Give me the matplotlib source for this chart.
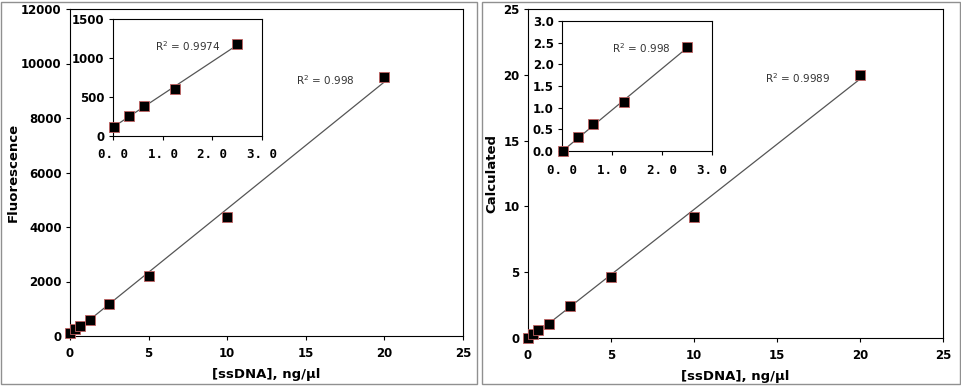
import numpy as np
import matplotlib.pyplot as plt
from matplotlib.patches import Rectangle

# concentrations, ng/ul
conc = [0, 0.3125, 0.625, 1.25, 2.5, 5, 10, 20]
fluor = [100, 250, 380, 590, 1170, 2200, 4380, 9500]
calc = [0, 0.3, 0.6, 1.1, 2.4, 4.6, 9.2, 20]

conc_low = [0.03, 0.3125, 0.625, 1.25, 2.5]
fluor_low = [120, 260, 390, 600, 1180]
calc_low = [0.0, 0.32, 0.62, 1.12, 2.4]

r2_main = ['R$^2$ = 0.998', 'R$^2$ = 0.9989']
r2_inset = ['R$^2$ = 0.9974', 'R$^2$ = 0.998']

W, H = 962, 386
fig = plt.figure(figsize=(W / 100, H / 100), dpi=100)


def box(l, t, r, b):
    return [l / W, 1 - b / H, (r - l) / W, (b - t) / H]


def scatter_fit(ax, x, y, ms):
    x = np.asarray(x, float)
    y = np.asarray(y, float)
    k, c = np.polyfit(x, y, 1)
    xl = np.array([x.min(), x.max()])
    ax.plot(xl, k * xl + c, color='#555555', lw=0.9, zorder=2)
    ax.plot(x, y, 's', ms=ms, mfc='black', mec='#c06060', mew=0.6, zorder=3,
            clip_on=False)


def style(ax):
    for s in ax.spines.values():
        s.set_color('black')
        s.set_linewidth(0.8)
    ax.tick_params(direction='out', length=3, width=0.8, pad=3)


# outer gray frames
for l, r in [(1, 477), (482, 960)]:
    fig.patches.append(Rectangle((l / W, 2 / H), (r - l) / W, (H - 4) / H,
                                 transform=fig.transFigure, fill=False,
                                 ec='#909090', lw=1.0))

mono = dict(family='DejaVu Sans Mono', fontsize=9, fontweight='bold')

panels = [
    dict(main=box(70, 9, 463, 336), inset=box(113, 19, 262, 136), y=fluor,
         ylow=fluor_low, ylim=(0, 12000), yt=np.arange(0, 12001, 2000),
         ilim=(0, 1500), iyt=[0, 500, 1000, 1500], iyfmt='%d',
         ylabel='Fluorescence', r2pos=(14.4, 9400), ir2pos=(0.85, 1150),
         lab_x=-0.127),
    dict(main=box(528, 9, 943, 338), inset=box(562, 21, 712, 151), y=calc,
         ylow=calc_low, ylim=(0, 25), yt=np.arange(0, 26, 5),
         ilim=(0, 3.0), iyt=np.arange(0, 3.01, 0.5), iyfmt='%.1f',
         ylabel='Calculated', r2pos=(14.3, 19.75), ir2pos=(1.0, 2.38),
         lab_x=-0.071),
]

for i, p in enumerate(panels):
    ax = fig.add_axes(p['main'])
    scatter_fit(ax, conc, p['y'], 7)
    ax.set_xlim(0, 25)
    ax.set_ylim(*p['ylim'])
    ax.set_xticks([0, 5, 10, 15, 20, 25])
    ax.set_yticks(p['yt'])
    style(ax)
    ax.tick_params(axis='x', pad=5)
    for lab in ax.get_xticklabels() + ax.get_yticklabels():
        lab.set_fontsize(8.5)
        lab.set_fontweight('bold')
    ax.set_ylabel(p['ylabel'], fontsize=9.5, fontweight='bold')
    ax.yaxis.set_label_coords(p['lab_x'], 0.5)
    ax.set_xlabel('[ssDNA], ng/\u00b5l', fontsize=9.5, fontweight='bold',
                  labelpad=6)
    ax.text(*p['r2pos'], r2_main[i], fontsize=7.5, color='#333333',
            va='center')

    ia = fig.add_axes(p['inset'])
    scatter_fit(ia, conc_low, p['ylow'], 6.5)
    ia.set_xlim(0, 3)
    ia.set_ylim(*p['ilim'])
    ia.set_xticks([0, 1, 2, 3])
    ia.set_xticklabels(['0. 0', '1. 0', '2. 0', '3. 0'], **mono)
    ia.set_yticks(p['iyt'])
    ia.set_yticklabels([p['iyfmt'] % v for v in p['iyt']], fontsize=8.5,
                       fontweight='bold')
    style(ia)
    ia.tick_params(axis='x', pad=6)
    ia.text(*p['ir2pos'], r2_inset[i], fontsize=7.5, color='#333333',
            va='center')

fig.savefig('out.png', dpi=100)
